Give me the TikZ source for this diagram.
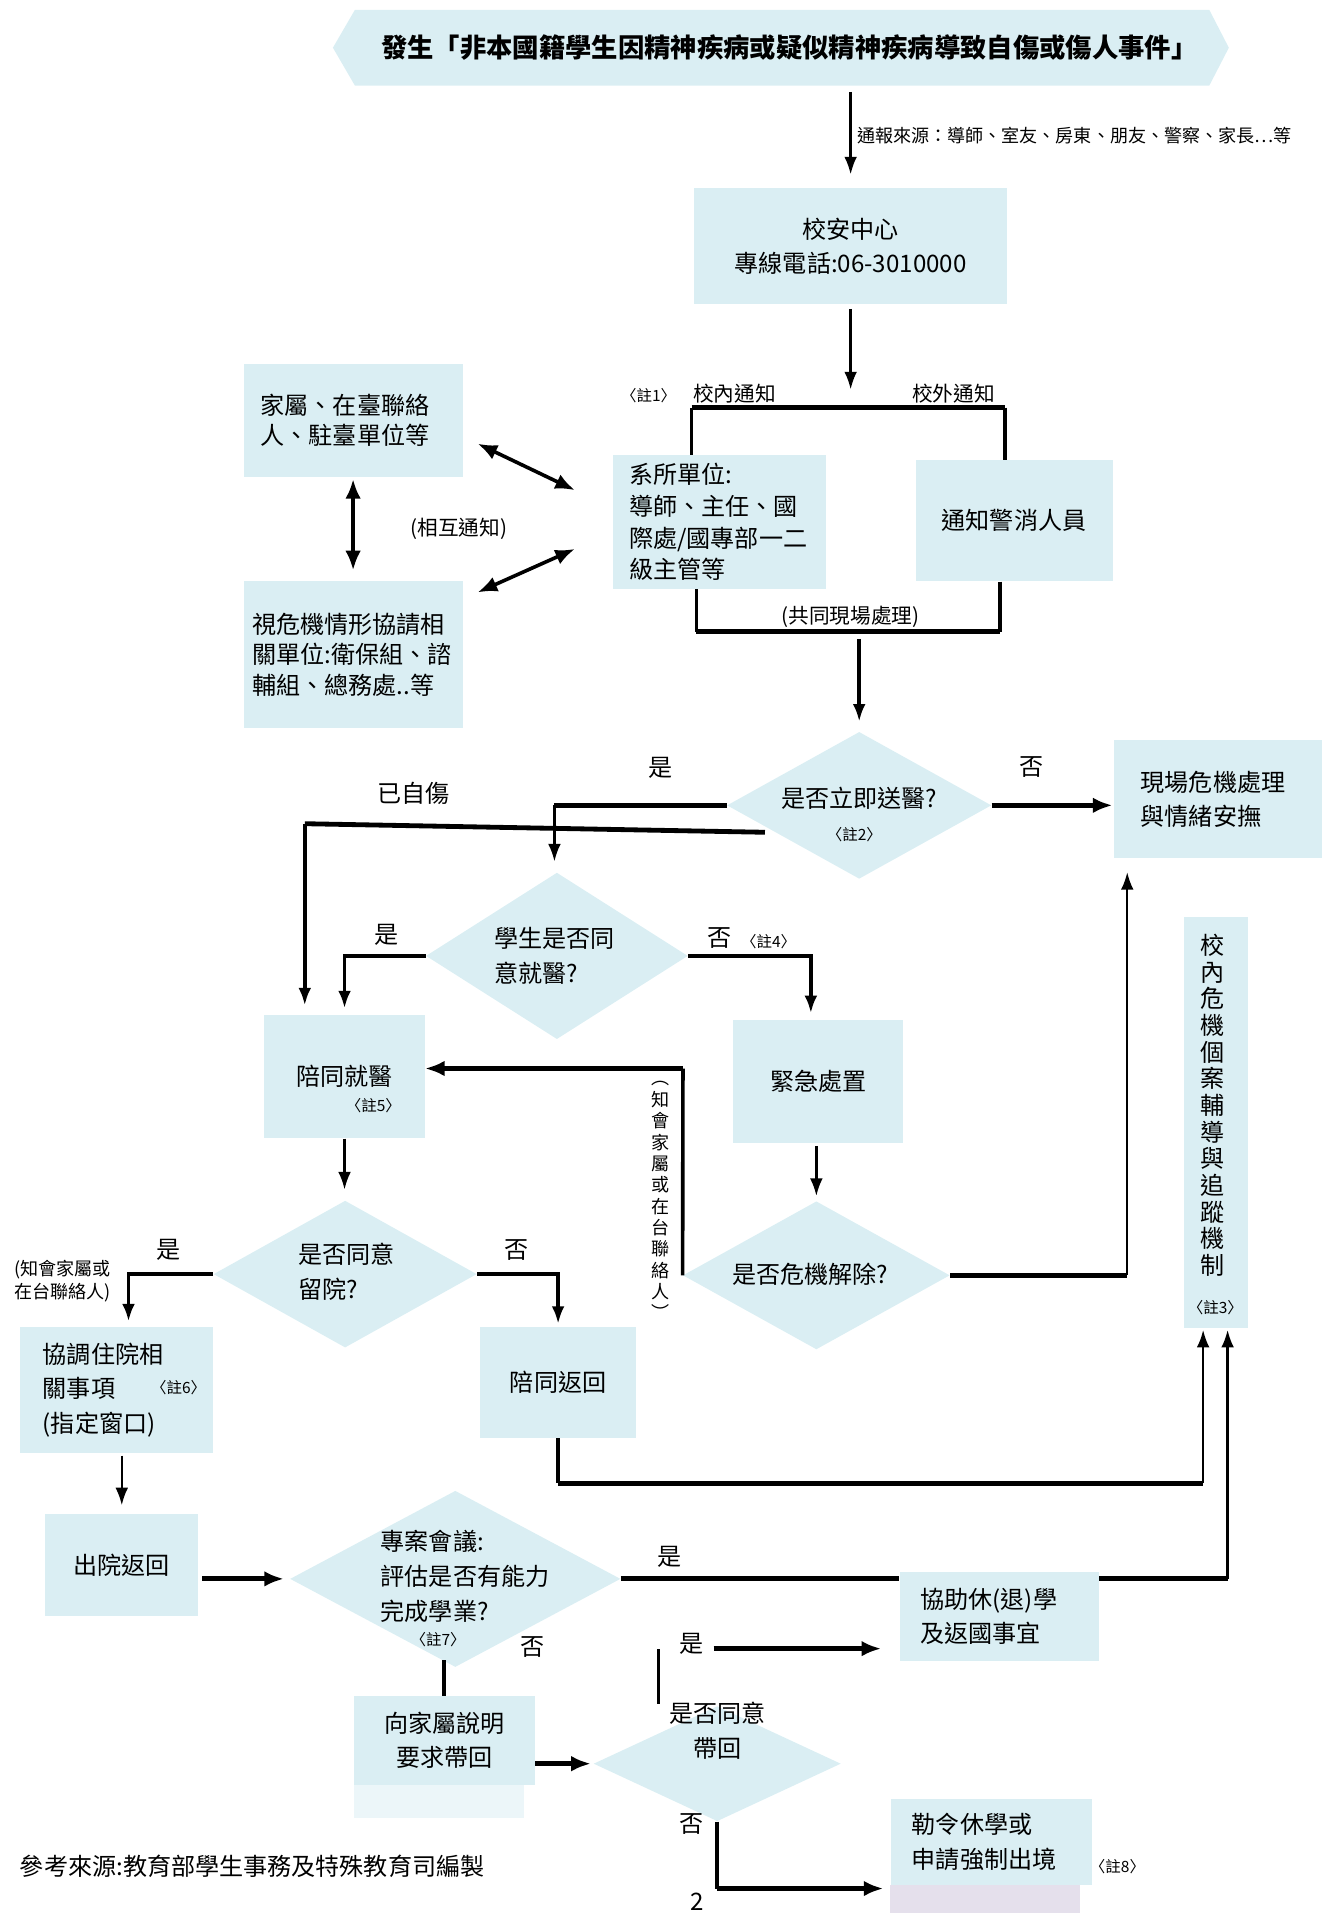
\documentclass[tikz,border=0pt]{standalone}
\usepackage{fontspec}
\setmainfont{Noto Sans CJK TC}
\usetikzlibrary{arrows.meta,shapes.geometric}
\definecolor{pale}{HTML}{DAEEF3}
\definecolor{paler}{HTML}{ECF6F9}
\definecolor{lilac}{HTML}{E5E0EC}

\begin{document}
\begin{tikzpicture}[x=0.025cm,y=-0.025cm,
  box/.style 2 args={fill=pale,inner sep=0pt,minimum width=#1*0.025cm,minimum height=#2*0.025cm,font=\fontsize{14}{20}\selectfont,align=center},
  lft/.style={align=left,text width=#1*0.025cm},
  dia/.style 2 args={diamond,fill=pale,inner sep=0pt,minimum width=#1*0.025cm,minimum height=#2*0.025cm},
  txt/.style={inner sep=0pt,font=\fontsize{14}{20.5}\selectfont,align=left},
  lbl/.style={inner sep=0pt,font=\fontsize{12}{14}\selectfont},
  sml/.style={inner sep=0pt,font=\fontsize{10.5}{13.5}\selectfont,align=left},
  note/.style={inner sep=0pt,font=\fontsize{9}{11}\selectfont},
  thn/.style={line width=1.4pt},
  med/.style={line width=2.1pt},
  thk/.style={line width=2.8pt},
  arr/.style={thn,-{Latex[length=3.6mm,width=2.6mm]}},
  arrthk/.style={thk,-{Latex[length=4mm,width=3.2mm]}},
  dbl/.style={line width=2.1pt,{Latex[length=4mm,width=3.2mm]}-{Latex[length=4mm,width=3.2mm]}}]
\useasboundingbox (0,0) rectangle (1080,1563);

\fill[pale] (272,39) -- (290,8) -- (988,8) -- (1004,39) -- (988,70) -- (290,70) -- cycle;
\node[inner sep=0pt,minimum height=62*0.025cm,font=\fontsize{15.3}{18}\selectfont\bfseries] (top) at (645,39) {發生「非本國籍學生因精神疾病或疑似精神疾病導致自傷或傷人事件」};

\node[box={256}{94}] (csc) at (695,201) {校安中心\\專線電話:06-3010000};
\node[box={174}{109},lft=148,font=\fontsize{14}{18.5}\selectfont] (dept) at (588,426.5) {系所單位:\\導師、主任、國\\際處/國專部一二\\級主管等};
\node[box={161}{99}] (police) at (828.5,425.5) {通知警消人員};
\node[box={179}{93},lft=151,font=\fontsize{14}{17.8}\selectfont] (fam) at (288.5,343.5) {家屬、在臺聯絡\\人、駐臺單位等};
\node[box={179}{120},lft=165,font=\fontsize{14}{17.8}\selectfont] (unit) at (288.5,535) {視危機情形協請相\\關單位:衛保組、諮\\輔組、總務處..等};
\node[box={170}{96},lft=126] (scene) at (995,653) {現場危機處理\\與情緒安撫};
\node[box={53}{336}] (track) at (993.5,917) {};
\node[txt,align=center,font=\fontsize{14}{15.5}\selectfont] (trackt) at (991,903) {校\\內\\危\\機\\個\\案\\輔\\導\\與\\追\\蹤\\機\\制};
\node[note] (n3) at (993,1068) {〈註3〉};
\node[box={131}{101}] (escort) at (281.5,879.5) {陪同就醫};
\node[note] (n5) at (305,903) {〈註5〉};
\node[box={139}{101}] (emerg) at (668.5,883.5) {緊急處置};
\node[box={158}{103},lft=120] (admit) at (95,1135.5) {協調住院相\\關事項\\(指定窗口)};
\node[note] (n6) at (146,1134) {〈註6〉};
\node[box={128}{91}] (back) at (456,1129.5) {陪同返回};
\node[box={125}{83}] (disch) at (99.5,1278.5) {出院返回};
\node[box={163}{73},lft=129] (home) at (816.5,1320.5) {協助休(退)學\\及返國事宜};
\fill[paler] (289,1458) rectangle (428,1485);
\node[box={148}{72}] (tell) at (363,1422) {向家屬說明\\要求帶回};
\fill[lilac] (727,1540) rectangle (882,1563);
\node[box={164}{70},lft=130] (expel) at (810,1505) {勒令休學或\\申請強制出境};
\node[note] (n8) at (913,1525) {〈註8〉};

\node[dia={216}{120}] (q1) at (702,658) {};
\node[txt] (q1t) at (702,652) {是否立即送醫?};
\node[note] (n2) at (698,682) {〈註2〉};
\node[dia={214}{136}] (q2) at (455,781) {};
\node[txt] (q2t) at (453,781) {學生是否同\\意就醫?};
\node[dia={215}{120}] (q3) at (282,1041) {};
\node[txt] (q3t) at (283,1039) {是否同意\\留院?};
\node[dia={218}{121}] (q4) at (667,1042) {};
\node[txt] (q4t) at (662,1041) {是否危機解除?};
\node[dia={270}{144}] (q5) at (372,1290) {};
\node[txt] (q5t) at (380,1288) {專案會議:\\評估是否有能力\\完成學業?};
\node[note] (n7) at (358,1340) {〈註7〉};
\node[dia={202}{94}] (q6) at (586,1441) {};
\node[txt,align=center] (q6t) at (586,1414) {是否同意\\帶回};

\node[sml,anchor=west] (src) at (700,111) {通報來源：導師、室友、房東、朋友、警察、家長…等};
\node[note] (n1) at (530,323) {〈註1〉};
\node[lbl] (inside) at (600,322) {校內通知};
\node[lbl] (outside) at (779,322) {校外通知};
\node[lbl] (joint) at (695,504) {(共同現場處理)};
\node[lbl] (mutual) at (375,432) {(相互通知)};
\node[txt] (yes1) at (540,627) {是};
\node[txt] (no1) at (843,627) {否};
\node[txt] (selfh) at (338,648) {已自傷};
\node[txt] (yes2) at (316,764) {是};
\node[txt] (no2) at (588,766) {否};
\node[note] (n4) at (628,769) {〈註4〉};
\node[sml,align=center,font=\fontsize{10.5}{12.4}\selectfont] (inform) at (540,981) {︵\\知\\會\\家\\屬\\或\\在\\台\\聯\\絡\\人\\︶};
\node[txt] (yes3) at (138,1021) {是};
\node[sml] (inform2) at (51,1047) {(知會家屬或\\在台聯絡人)};
\node[txt] (no3) at (422,1021) {否};
\node[txt] (yes4) at (547,1272) {是};
\node[txt] (no4) at (435,1346) {否};
\node[txt] (yes5) at (565,1343) {是};
\node[txt] (no5) at (565,1490) {否};
\node[txt,anchor=west] (ref) at (16,1525) {參考來源:教育部學生事務及特殊教育司編製};
\node[txt,anchor=south] (page) at (570,1561) {2};

\coordinate (bl) at (565,333);
\coordinate (br) at (821,333);
\coordinate (bm) at (693,333);
\coordinate (cl) at (569,516);
\coordinate (cr) at (817,516);
\coordinate (cm) at (702,516);
\coordinate (y1) at (453,658);
\coordinate (h1) at (625,680);
\coordinate (h2) at (249,673);
\coordinate (rc) at (921,1042);
\coordinate (lc) at (558,873);
\coordinate (bk) at (983,1212);
\coordinate (tr) at (1003,1290);
\coordinate (ya) at (538,1392);
\coordinate (yb) at (538,1347);
\coordinate (yc) at (583,1347);
\coordinate (nb) at (586,1543);

\draw[arr,shorten <=1.2mm,shorten >=2.8mm] (top.south -| csc.north) -- (csc.north);
\draw[arr,shorten <=1mm,shorten >=3.7mm] (csc.south) -- (csc.south |- bm);
\draw[thk] (bl) -- (br);
\draw[med] (bl) -- (dept.north -| bl);
\draw[med] (br) -- (police.north -| br);
\draw[med] (dept.south -| cl) -- (cl);
\draw[med] (police.south -| cr) -- (cr);
\draw[thk] (cl) -- (cr);
\draw[arr,med,shorten <=1.5mm,shorten >=2mm] (cm) -- (q1.north);
\draw[dbl,shorten <=0.3mm,shorten >=2.2mm] (fam.south) -- (unit.north);
\draw[dbl] ([shift={(12,19)}]fam.east) -- ([shift={(-31,-26)}]dept.west);
\draw[dbl] ([shift={(12,-51)}]unit.east) -- ([shift={(-31,22)}]dept.west);
\draw[arrthk,shorten >=0.2mm] (q1.east) -- (q1.east -| scene.west);
\draw[thk] (q1.west) -- (y1);
\draw[arr,shorten >=2.2mm] (y1) -- (y1 |- q2.north);
\draw[thk] (h1) -- (h2);
\draw[arr,med,shorten >=1.8mm] (h2) -- (h2 |- escort.north);
\draw[arr,med,shorten >=1.2mm] (q2.west) -| (escort.north);
\draw[arr,med,shorten >=1.2mm] (q2.east) -| ([shift={(-6,0)}]emerg.north);
\draw[arr,shorten <=0.5mm,shorten >=1mm] (emerg.south -| q4.north) -- (q4.north);
\draw[thk] (q4.east) -- (rc);
\draw[arr,shorten >=2.8mm] (rc) -- (rc |- scene.south);
\draw[med] (q4.west) -- (lc);
\draw[arrthk] (lc) -- (lc -| escort.east);
\draw[arr,shorten >=2.2mm] (escort.south) -- (escort.south |- q3.north);
\draw[arr,med,shorten >=1mm] (q3.west) -| ([shift={(10,0)}]admit.north);
\draw[arr,med,shorten >=0.5mm] (q3.east) -| (back.north);
\draw[med] (back.south) -- (back.south |- bk);
\draw[thk] (back.south |- bk) -- (bk);
\draw[arr,shorten >=0.3mm] (bk) -- (bk |- track.south);
\draw[thk] (q5.east) -- (q5.east -| home.west);
\draw[thk] (home.east |- tr) -- (tr);
\draw[arr,shorten >=0.3mm] (tr) -- (tr |- track.south);
\draw[arr,shorten <=0.5mm,shorten >=1.7mm] (admit.south -| disch.north) -- (disch.north);
\draw[arrthk,shorten <=0.7mm,shorten >=1.2mm] (q5.west -| disch.east) -- (q5.west);
\draw[med,shorten <=-1.5mm] (tell.north |- q5.south) -- (tell.north);
\draw[arrthk,shorten >=0.5mm] (q6.west -| tell.east) -- (q6.west);
\draw[med] (ya) -- (yb);
\draw[arrthk,shorten >=3.7mm] (yc) -- (yc -| home.west);
\draw[med] (q6.south) -- (nb);
\draw[arrthk,shorten >=1.5mm] (nb) -- (nb -| expel.west);
\end{tikzpicture}
\end{document}
